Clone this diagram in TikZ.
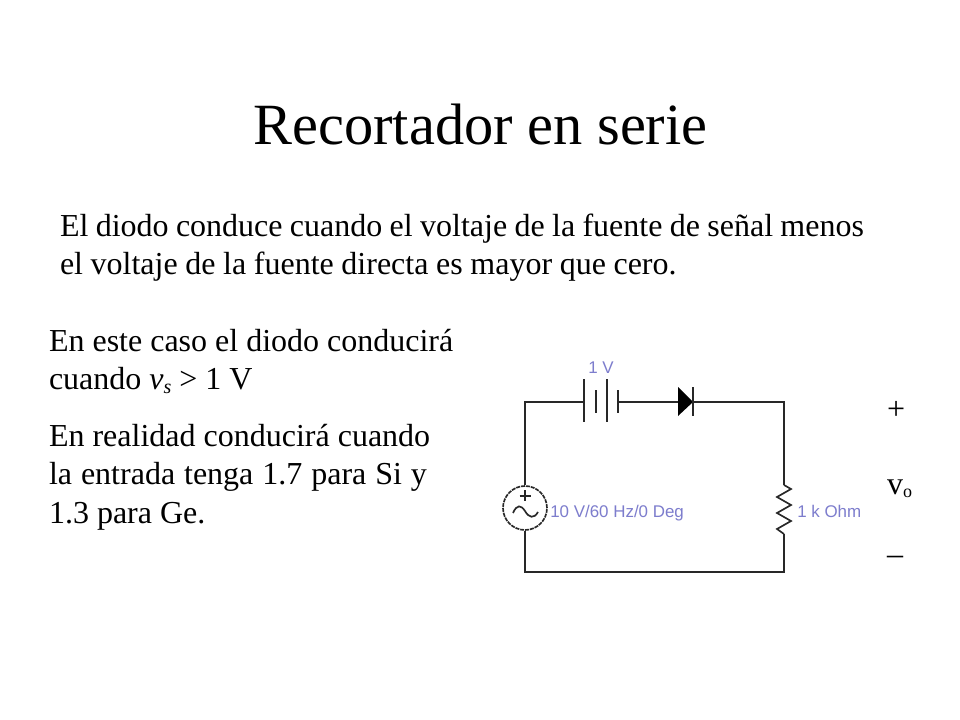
\documentclass[tikz,border=0pt]{standalone}
\usepackage{fontspec}
\setmainfont{Liberation Serif}
\newfontfamily\labelfont{Liberation Sans}
\definecolor{partlabel}{RGB}{125,125,205}
\definecolor{wirecol}{RGB}{40,40,40}
\tikzset{
  x=0.75pt,y=-0.75pt,
  txt/.style={anchor=base west,inner sep=0pt,outer sep=0pt,font=\fontsize{24pt}{28pt}\selectfont,text=black},
  titletxt/.style={anchor=base,inner sep=0pt,font=\fontsize{43.8pt}{50pt}\selectfont},
  lab/.style={anchor=base west,inner sep=0pt,font=\labelfont\fontsize{12.7pt}{14pt}\selectfont,text=partlabel},
  wire/.style={draw=wirecol,line width=1.25pt},
  srcring/.style={circle,draw=wirecol,line width=1.25pt,dash pattern=on 3pt off 0.7pt,minimum size=33pt,inner sep=0pt},
}
\begin{document}
\begin{tikzpicture}
\useasboundingbox (0,0) rectangle (960,720);
\fill[white] (0,0) rectangle (960,720);
\node[titletxt] (title) at (480.5,145) {Recortador en serie};
\node[txt] (p1) at (60,237) {\spaceskip=5.5pt El diodo conduce cuando el voltaje de la fuente de señal menos};
\node[txt] (p2) at (60,275) {\spaceskip=5.7pt el voltaje de la fuente directa es mayor que cero.};
\node[txt] (p3) at (49,351) {En este caso el diodo conducirá};
\node[txt] (p4) at (49,389) {cuando \textit{v}\raisebox{-3pt}{\fontsize{15pt}{16pt}\selectfont\textit{s}} > 1 V};
\node[txt] (p5) at (49,446) {En realidad conducirá cuando};
\node[txt] (p6) at (49,484) {\spaceskip=6.7pt la entrada tenga 1.7 para Si y};
\node[txt] (p7) at (49,523) {1.3 para Ge.};
\node[txt] (plus) at (887,419) {+};
\node[txt] (vo) at (887,494) {v\raisebox{-2.5pt}{\fontsize{13.5pt}{15pt}\selectfont o}};
\node[txt] (minus) at (887,564) {\textendash};
\node[lab] (l1) at (588,373) {1 V};
\node[lab] (l2) at (550,517) {10 V/60 Hz/0 Deg};
\node[lab] (l3) at (797,517) {1 k Ohm};
\coordinate (tl) at (525,402);
\coordinate (tr) at (784,402);
\coordinate (bl) at (525,572);
\coordinate (br) at (784,572);
\coordinate (b1) at (584,402);
\coordinate (b4) at (618,402);
\coordinate (da) at (678,402);
\coordinate (dk) at (693,402);
\coordinate (r1) at (784,485);
\coordinate (r2) at (784,534);
\node[srcring] (src) at (525,508) {};
\draw[wire] (src.north) -- (tl) -- (b1);
\draw[wire] (b1 |- 0,379) -- (b1 |- 0,422);
\draw[wire] (596,390) -- (596,413);
\draw[wire] (607,379) -- (607,422);
\draw[wire] (b4 |- 0,390) -- (b4 |- 0,413);
\draw[wire] (b4) -- (da);
\fill[black] (678,387) -- (693,402) -- (678,416) -- cycle;
\draw[wire] (dk |- 0,387) -- (dk |- 0,416);
\draw[wire] (dk) -- (tr) -- (r1);
\draw[wire,line join=miter] (r1) -- (791,489) -- (777,497) -- (791,505) -- (777,513) -- (791,521) -- (777,529) -- (r2);
\draw[wire] (r2) -- (br) -- (bl) -- (src.south);
\draw[wire] (525,490) -- (525,501) (519.5,496) -- (530.5,496);
\draw[wire] (513,513) .. controls (517,504) and (521,505) .. (525,511) .. controls (529,518) and (534,519) .. (538,512);
\end{tikzpicture}
\end{document}
